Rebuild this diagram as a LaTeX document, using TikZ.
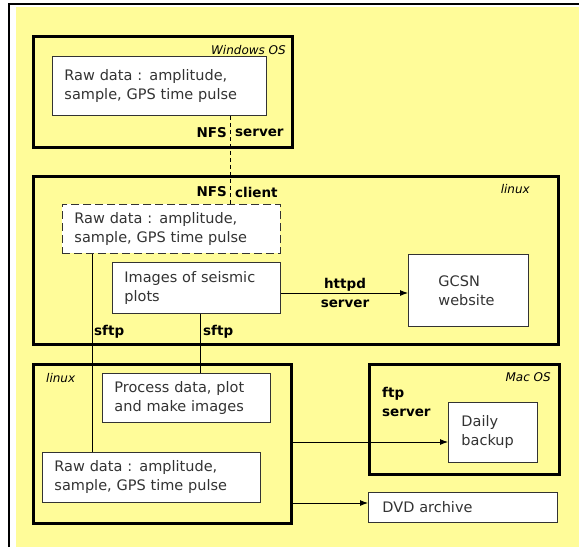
\documentclass[tikz,border=0pt]{standalone}
\usepackage{fontspec}
\setmainfont{DejaVu Sans}
\usepackage{tikz}
\usetikzlibrary{
  arrows.meta,
  calc,
  positioning}
\definecolor{notepad}{HTML}{FFFC99}
\definecolor{ink}{HTML}{333333}

\begin{document}
\begin{tikzpicture}[x=1pt,y=-1pt,
    >={Latex[length=8pt,width=6pt]},
    host/.style={draw,line width=3pt,anchor=north west,inner sep=0pt},
    databox/.style={draw=ink,fill=white,line width=0.9pt,anchor=north west,align=left,
      inner xsep=12pt,inner ysep=0pt,text=ink,font=\fontsize{14.5}{19}\selectfont},
    proto/.style={font=\bfseries\fontsize{13.5}{19}\selectfont,inner sep=0pt},
    ostag/.style={font=\itshape\fontsize{12}{14}\selectfont,inner sep=0pt},
    wire/.style={line width=0.9pt}]
  \useasboundingbox (0,0) rectangle (579,547);
  \fill[white] (0,0) rectangle (579,547);
  \fill[notepad] (16,7) rectangle (579,547);
  \draw[line width=2pt] (9,547) -- (9,4) -- (579,4);

  \node[host,minimum width=259pt,minimum height=111pt] (win) at (32,35) {};
  \node[host,minimum width=525pt,minimum height=168pt] (nfsc) at (32,175) {};
  \node[host,minimum width=258pt,minimum height=159pt] (proc) at (32,363) {};
  \node[host,minimum width=190pt,minimum height=110pt] (mac) at (368,363) {};

  \node[databox,minimum width=214pt,minimum height=59pt,text width=190pt] (raw1) at (52,56)
    {Raw data : amplitude,\\sample, GPS time pulse};
  \node[databox,dash pattern=on 8pt off 4pt,minimum width=218pt,minimum height=49pt,text width=194pt] (rawc) at (62,204)
    {Raw data : amplitude,\\sample, GPS time pulse};
  \node[databox,minimum width=168pt,minimum height=51pt,text width=144pt] (images) at (112,262)
    {Images of seismic\\plots};
  \node[databox,minimum width=119pt,minimum height=72pt,text width=60pt,inner xsep=30pt] (gcsn) at (408,254)
    {GCSN\\website};
  \node[databox,minimum width=168pt,minimum height=49pt,text width=144pt] (process) at (102,373)
    {Process data, plot\\and make images};
  \node[databox,minimum width=218pt,minimum height=50pt,text width=194pt] (raw3) at (42,452)
    {Raw data : amplitude,\\sample, GPS time pulse};
  \node[databox,minimum width=89pt,minimum height=60pt,text width=63pt,inner xsep=13pt] (backup) at (448,402)
    {Daily\\backup};
  \node[databox,minimum width=189pt,minimum height=30pt,text width=161pt,inner xsep=14pt] (dvd) at (368,492)
    {DVD archive};

  \node[ostag,anchor=east] (winos) at (286,50) {Windows OS};
  \node[proto,anchor=east] (nfs1) at (227,133) {NFS};
  \node[proto,anchor=west] (srv1) at (235,133) {server};
  \node[proto,anchor=east] (nfs2) at (227,192) {NFS};
  \node[proto,anchor=west] (clt) at (235,192) {client};
  \node[ostag,anchor=east] (lnx1) at (530,189) {linux};
  \node[proto,align=center] (httpd) at (345,293) {httpd\\server};
  \node[proto,anchor=west] (sftp1) at (94,332) {sftp};
  \node[proto,anchor=west] (sftp2) at (203,332) {sftp};
  \node[ostag,anchor=west] (lnx2) at (46,378) {linux};
  \node[ostag,anchor=east] (macos) at (551,377) {Mac OS};
  \node[proto,anchor=west,align=left] (ftp) at (382,402) {ftp\\server};

  \coordinate (nfsx) at (230,0);
  \coordinate (s1) at (92,0);
  \coordinate (s2) at (200,0);
  \coordinate (bk) at (0,442);
  \coordinate (dv) at (0,503);
  \draw[wire,dash pattern=on 4pt off 3pt] (raw1.south -| nfsx) -- (rawc.north -| nfsx);
  \draw[wire] (rawc.south -| s1) -- (raw3.north -| s1);
  \draw[wire] (images.south -| s2) -- (process.north -| s2);
  \draw[wire,->] (images.east |- httpd) -- (gcsn.west |- httpd);
  \draw[wire,->] (proc.east |- bk) -- (backup.west |- bk);
  \draw[wire,->] (proc.east |- dv) -- (dvd.west |- dv);
\end{tikzpicture}
\end{document}
